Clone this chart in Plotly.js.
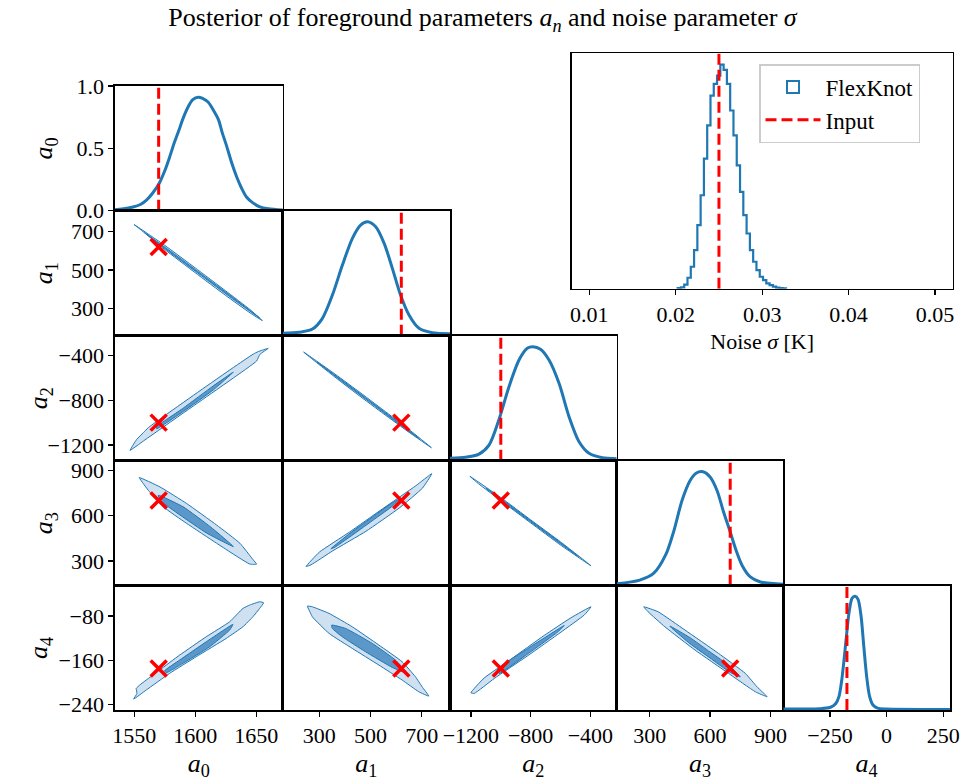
<!DOCTYPE html>
<html>
<head>
<meta charset="utf-8">
<script src="https://cdn.plot.ly/plotly-3.0.1.min.js"></script>
<style>body{margin:0;background:#fff}</style>
</head>
<body>
<div id="chart" style="width:965px;height:781px"></div>
<script>
// ---------------- DATA ----------------
const paramLabels = ['<i>a</i><sub>0</sub>', '<i>a</i><sub>1</sub>', '<i>a</i><sub>2</sub>', '<i>a</i><sub>3</sub>', '<i>a</i><sub>4</sub>'];
const inputValues = [1570, 620, -1000, 700, -175];
const inputSigma = 0.025;

// tick labels
const ticksA0 = [1550, 1600, 1650];
const ticksA1 = [300, 500, 700];
const ticksA2 = [-1200, -800, -400];
const ticksA3 = [300, 600, 900];
const ticksA4x = [-250, 0, 250];
const ticksA4y = [-240, -160, -80];
const ticksDiag = [0, 0.5, 1.0];
const ticksSigma = [0.01, 0.02, 0.03, 0.04, 0.05];

// 1D marginal KDEs (normalised height)
const kdeA0x = [1534, 1540, 1549, 1555, 1560, 1565, 1570.5, 1575, 1579, 1583, 1587.5, 1590, 1594, 1598, 1602.5, 1606, 1610.7, 1614, 1619, 1622, 1626, 1630, 1634, 1638, 1642, 1647, 1653, 1660, 1672];
const kdeA0y = [0.008, 0.014, 0.03, 0.05, 0.085, 0.14, 0.22, 0.32, 0.43, 0.55, 0.67, 0.74, 0.83, 0.89, 0.91, 0.90, 0.87, 0.82, 0.73, 0.63, 0.51, 0.38, 0.27, 0.18, 0.11, 0.065, 0.03, 0.015, 0.005];
const kdeA1x = [157, 221, 273, 312, 351, 390, 429, 461, 488, 520, 553, 585, 617, 650, 689, 741, 810];
const kdeA1y = [0.019, 0.027, 0.053, 0.139, 0.325, 0.565, 0.779, 0.885, 0.912, 0.872, 0.739, 0.539, 0.325, 0.165, 0.059, 0.024, 0.016];
const kdeA2x = [-1340, -1236, -1146, -1079, -1012, -945, -878, -823, -785, -734, -677, -610, -543, -476, -409, -320, -224];
const kdeA2y = [0.019, 0.027, 0.053, 0.125, 0.33, 0.592, 0.805, 0.899, 0.912, 0.891, 0.805, 0.619, 0.352, 0.152, 0.059, 0.024, 0.016];
const kdeA3x = [135, 250, 320, 380, 420, 460, 500, 530, 565, 600, 635, 665, 700, 730, 760, 800, 850, 964];
const kdeA3y = [0.015, 0.045, 0.10, 0.25, 0.44, 0.68, 0.84, 0.90, 0.912, 0.87, 0.76, 0.60, 0.43, 0.28, 0.16, 0.07, 0.03, 0.012];
const kdeA4x = [-456, -300, -250, -225, -210, -198, -188, -178, -166, -152, -139, -126, -113, -100, -88, -75, -60, -40, 0, 280];
const kdeA4y = [0.008, 0.01, 0.02, 0.05, 0.11, 0.24, 0.40, 0.58, 0.78, 0.90, 0.915, 0.89, 0.76, 0.50, 0.27, 0.11, 0.04, 0.015, 0.008, 0.005];

// 2D contours: outer (95%) and inner (68%) regions
const c10OuterX = [1549.8, 1575, 1600, 1625, 1645, 1655, 1645, 1625, 1600, 1575, 1556, 1549.8];
const c10OuterY = [738, 629, 511, 391, 293, 236, 276, 367, 486, 607, 707, 738];
const c10InnerX = [1558.5, 1580, 1605, 1630, 1652.8, 1630, 1605, 1580, 1558.5];
const c10InnerY = [694.8, 597, 479, 361, 249.7, 353, 471, 589, 694.8];

const c20OuterX = [1546.5, 1552, 1557.4, 1561.5, 1576.6, 1603.9, 1631.2, 1647.6, 1651.6, 1659.8, 1653, 1650.3, 1631.2, 1603.9, 1576.6, 1557.4, 1546.5];
const c20OuterY = [-1248, -1150, -1090, -1045, -925, -715, -508, -388, -366, -337, -391, -450, -602, -810, -1018, -1165, -1248];
const c20InnerX = [1568.4, 1590.2, 1614.8, 1631.2, 1614.8, 1590.2, 1568.4, 1568.4];
const c20InnerY = [-1037, -870, -672, -549, -708, -900, -1055, -1037];

const c21OuterX = [238.9, 350, 450, 550, 650, 737.4, 650, 550, 450, 350, 238.9];
const c21OuterY = [-370.5, -548, -716, -888, -1062, -1224, -1086, -920, -750, -574, -370.5];
const c21InnerX = [290, 400, 500, 600, 690, 600, 500, 400, 290];
const c21InnerY = [-458, -641, -812, -984, -1143, -994, -823, -651, -458];

const c30OuterX = [1554.1, 1571.1, 1592.9, 1617.5, 1636.6, 1647.5, 1650.3, 1644.8, 1617.5, 1592.9, 1573.8, 1561.5, 1557.4, 1554.1];
const c30OuterY = [852, 790, 680.5, 537.6, 417, 307, 278.6, 278.6, 417, 548.8, 658, 768, 812, 852];
const c30InnerX = [1569.7, 1590.2, 1612.4, 1631.2, 1609.6, 1587.5, 1571.1, 1569.7];
const c30InnerY = [735, 658, 526, 395, 483, 603.5, 702, 735];

const c31OuterX = [248.2, 300, 416.9, 546.6, 676.6, 739, 702.4, 611.6, 481.9, 351.8, 267.7, 248.2];
const c31OuterY = [262.7, 358, 490, 645, 798, 878, 782, 650, 496, 366, 274, 262.7];
const c31InnerX = [345, 420, 500, 580, 615, 580, 500, 420, 360, 345];
const c31InnerY = [380, 484, 582, 680, 712, 656, 558, 460, 390, 380];

const c32OuterX = [-1206.7, -1000, -800, -600, -396, -600, -800, -1000, -1150, -1206.7];
const c32OuterY = [860.5, 720, 572, 426, 267.4, 405, 552, 699, 812, 860.5];
const c32InnerX = [-1100, -1000, -800, -600, -480, -600, -800, -1000, -1100];
const c32InnerY = [782.4, 713, 567, 421, 329, 413, 559, 705, 782.4];

const c40OuterX = [1549.5, 1552.2, 1551.6, 1554.4, 1559.8, 1570.8, 1587.2, 1609, 1628.2, 1639.1, 1644.6, 1652.8, 1656.1, 1652.8, 1647.3, 1639.1, 1625.4, 1600.8, 1579, 1559.8, 1549.5];
const c40OuterY = [-230.2, -220, -210.9, -204.9, -195.8, -177.7, -150.6, -117.4, -90.3, -66.1, -60.1, -54.1, -55.9, -66.1, -81.2, -99.3, -120.4, -153.6, -183.7, -213.9, -230.2];
const c40InnerX = [1574.9, 1587.2, 1609, 1625.4, 1630.9, 1628.2, 1611.8, 1589.9, 1576.2, 1574.9];
const c40InnerY = [-179, -159.6, -126.5, -102.3, -95, -105.3, -135.6, -165.6, -182.6, -179];

const c41OuterX = [253.3, 272.7, 337.8, 428.5, 532.5, 623.3, 675.1, 701.2, 727.3, 688.3, 623.3, 532.5, 428.5, 337.8, 272.7, 259.9, 253.3];
const c41OuterY = [-61.9, -63.2, -75.1, -99.4, -132.5, -162.7, -189.9, -208, -224.8, -217, -195.8, -168.7, -138.5, -111.3, -81.3, -69.1, -61.9];
const c41InnerX = [347.9, 402.4, 506.4, 597.2, 642.8, 584.3, 480.3, 389.6, 350.6, 347.9];
const c41InnerY = [-96.3, -102.3, -129.4, -159.6, -183.7, -172.9, -144.6, -117.5, -102.3, -96.3];

const c42OuterX = [-1200, -1111, -932, -709, -530, -396, -441, -597, -821, -1044, -1178, -1200];
const c42OuterY = [-218.8, -192, -158, -115, -83, -63.2, -78, -109, -152, -193, -220, -218.8];
const c42InnerX = [-1022, -821, -575, -620, -843, -1010, -1022];
const c42InnerY = [-176, -139, -97, -109, -153, -184, -176];

const c43OuterX = [270, 341.7, 475, 641.7, 775, 833.3, 883.5, 825, 691.7, 525, 375, 291.7, 270];
const c43OuterY = [-63.2, -72.2, -105.3, -147.5, -183.7, -208, -226, -217, -183.7, -141.5, -99.4, -72.2, -63.2];
const c43InnerX = [400, 500, 600, 700, 750, 700, 600, 500, 410, 400];
const c43InnerY = [-98, -119, -145, -171, -190, -182, -156, -130, -102, -98];

// noise sigma histogram
const histEdges = [0.02022, 0.02060, 0.02098, 0.02136, 0.02174, 0.02212, 0.02250, 0.02288, 0.02326, 0.02364, 0.02402, 0.02440, 0.02478, 0.02516, 0.02554, 0.02592, 0.02630, 0.02668, 0.02706, 0.02744, 0.02782, 0.02820, 0.02858, 0.02896, 0.02934, 0.02972, 0.03010, 0.03048, 0.03086, 0.03124, 0.03162, 0.03200, 0.03238, 0.03276];
const histCounts = [2, 4, 12, 33, 66, 116, 191, 281, 391, 491, 581, 616, 641, 674, 658, 616, 536, 461, 371, 291, 221, 166, 116, 81, 56, 36, 26, 16, 11, 6, 3, 2, 1];

// ---------------- STYLE / LAYOUT ----------------
const W = 965, H = 781;
const FONT = '"Liberation Serif", "DejaVu Serif", serif';
const C0 = '#1f77b4';
const LIGHT = '#cfe0f0';
const DARK = '#5b97c9';
const RED = '#ff0000';
const colPx = [115, 282.7, 450, 616.7, 783.3, 950];
const rowPx = [86, 210.7, 335.7, 460.7, 585.7, 710];
const xRanges = [[1534.2, 1671.7], [157, 810], [-1340, -224], [135.5, 964], [-456, 280]];
const yRanges = [[0, 1], [157, 810], [-1340, -224], [135.5, 964], [-250, -25]];
const xTicks = [ticksA0, ticksA1, ticksA2, ticksA3, ticksA4x];
const yTicks = [ticksDiag, ticksA1, ticksA2, ticksA3, ticksA4y];
const kdes = [[kdeA0x, kdeA0y], [kdeA1x, kdeA1y], [kdeA2x, kdeA2y], [kdeA3x, kdeA3y], [kdeA4x, kdeA4y]];
const contours = {
  '1,0': [c10OuterX, c10OuterY, c10InnerX, c10InnerY],
  '2,0': [c20OuterX, c20OuterY, c20InnerX, c20InnerY],
  '2,1': [c21OuterX, c21OuterY, c21InnerX, c21InnerY],
  '3,0': [c30OuterX, c30OuterY, c30InnerX, c30InnerY],
  '3,1': [c31OuterX, c31OuterY, c31InnerX, c31InnerY],
  '3,2': [c32OuterX, c32OuterY, c32InnerX, c32InnerY],
  '4,0': [c40OuterX, c40OuterY, c40InnerX, c40InnerY],
  '4,1': [c41OuterX, c41OuterY, c41InnerX, c41InnerY],
  '4,2': [c42OuterX, c42OuterY, c42InnerX, c42InnerY],
  '4,3': [c43OuterX, c43OuterY, c43InnerX, c43InnerY]
};

function baseAxis() {
  return {
    showgrid: false, zeroline: false, showline: true, mirror: true,
    linecolor: 'black', linewidth: 1.6, ticks: '', showticklabels: false,
    tickfont: {family: FONT, size: 22, color: 'black'}, fixedrange: true
  };
}
function labelled(ax, vals, fmt) {
  ax.ticks = 'outside'; ax.ticklen = 5; ax.tickwidth = 1.3; ax.tickcolor = 'black';
  ax.showticklabels = true; ax.tickmode = 'array'; ax.tickvals = vals;
  if (fmt) ax.tickformat = fmt;
  return ax;
}

const layout = {
  width: W, height: H,
  margin: {l: 0, r: 0, t: 0, b: 0},
  paper_bgcolor: 'white', plot_bgcolor: 'white',
  font: {family: FONT, color: 'black', size: 20},
  title: {
    text: 'Posterior of foreground parameters <i>a</i><sub><i>n</i></sub> and noise parameter <i>σ</i>',
    font: {family: FONT, size: 26, color: 'black'},
    x: 0.5, xanchor: 'center', y: 1 - 17 / H, yanchor: 'middle', xref: 'paper', yref: 'container'
  },
  showlegend: true,
  legend: {
    x: 759 / W, y: 1 - 64 / H, xanchor: 'left', yanchor: 'top',
    bgcolor: 'white', bordercolor: '#cccccc', borderwidth: 1.5,
    font: {family: FONT, size: 23, color: 'black'}, itemwidth: 55,
    traceorder: 'normal', tracegroupgap: 2
  }
};

const traces = [];

// inset noise histogram on axis 1
const ix = baseAxis();
labelled(ix, ticksSigma, '.2f');
ix.domain = [571.7 / W, 952.7 / W];
ix.anchor = 'y';
ix.range = [0.00796, 0.05205];
ix.title = {text: 'Noise <i>σ</i> [K]', font: {family: FONT, size: 22, color: 'black'}, standoff: 8};
const iy = baseAxis();
iy.domain = [1 - 288.7 / H, 1 - 53.3 / H];
iy.anchor = 'x';
iy.range = [0, 708];
layout.xaxis = ix;
layout.yaxis = iy;

const stepX = [histEdges[0]];
const stepY = [0];
for (let k = 0; k < histCounts.length; k++) { stepX.push(histEdges[k]); stepY.push(histCounts[k]); }
stepX.push(histEdges[histEdges.length - 1]); stepY.push(0);
traces.push({type: 'scatter', mode: 'lines', x: stepX, y: stepY, xaxis: 'x', yaxis: 'y',
  line: {color: C0, width: 2.2, shape: 'hv'}, showlegend: false, hoverinfo: 'skip'});
// legend entry for the histogram (zero-height bar, hidden on axis line)
traces.push({type: 'bar', x: [histEdges[0]], y: [0], width: [0.00001], xaxis: 'x', yaxis: 'y',
  marker: {color: 'rgba(0,0,0,0)', line: {color: C0, width: 2}}, name: 'FlexKnot', showlegend: true, hoverinfo: 'skip'});
traces.push({type: 'scatter', mode: 'lines', x: [inputSigma, inputSigma], y: iy.range, xaxis: 'x', yaxis: 'y',
  line: {color: RED, width: 3, dash: '11px,5px'}, name: 'Input', showlegend: true, hoverinfo: 'skip'});

// corner panels
let n = 2;
for (let i = 0; i < 5; i++) {
  for (let j = 0; j <= i; j++) {
    const xa = baseAxis(), ya = baseAxis();
    xa.domain = [colPx[j] / W, colPx[j + 1] / W];
    ya.domain = [1 - rowPx[i + 1] / H, 1 - rowPx[i] / H];
    xa.anchor = 'y' + n; ya.anchor = 'x' + n;
    xa.range = xRanges[j];
    ya.range = (i === j) ? [0, 1] : yRanges[i];
    if (i === 4) {
      labelled(xa, xTicks[j]);
      xa.title = {text: paramLabels[j], font: {family: FONT, size: 26, color: 'black'}};
    }
    if (j === 0) {
      labelled(ya, yTicks[i], i === 0 ? '.1f' : undefined);
      ya.title = {text: paramLabels[i], font: {family: FONT, size: 26, color: 'black'}};
    }
    layout['xaxis' + n] = xa;
    layout['yaxis' + n] = ya;
    const xr = 'x' + n, yr = 'y' + n;
    if (i === j) {
      traces.push({type: 'scatter', mode: 'lines', x: kdes[i][0], y: kdes[i][1], xaxis: xr, yaxis: yr,
        line: {color: C0, width: 3, shape: 'spline', smoothing: 0.8}, showlegend: false, hoverinfo: 'skip'});
      traces.push({type: 'scatter', mode: 'lines', x: [inputValues[i], inputValues[i]], y: [0, 1], xaxis: xr, yaxis: yr,
        line: {color: RED, width: 3, dash: '11px,5px'}, showlegend: false, hoverinfo: 'skip'});
    } else {
      const c = contours[i + ',' + j];
      traces.push({type: 'scatter', mode: 'lines', x: c[0], y: c[1], xaxis: xr, yaxis: yr, fill: 'toself',
        fillcolor: LIGHT, line: {color: C0, width: 1, shape: 'spline', smoothing: 0.4}, showlegend: false, hoverinfo: 'skip'});
      traces.push({type: 'scatter', mode: 'lines', x: c[2], y: c[3], xaxis: xr, yaxis: yr, fill: 'toself',
        fillcolor: DARK, line: {color: C0, width: 1, shape: 'spline', smoothing: 0.4}, showlegend: false, hoverinfo: 'skip'});
      traces.push({type: 'scatter', mode: 'markers', x: [inputValues[j]], y: [inputValues[i]], xaxis: xr, yaxis: yr,
        marker: {symbol: 'x-thin', size: 16, color: RED, line: {color: RED, width: 3.5}}, showlegend: false, hoverinfo: 'skip'});
    }
    n++;
  }
}

Plotly.newPlot('chart', traces, layout, {staticPlot: true, displayModeBar: false});
</script>
</body>
</html>
